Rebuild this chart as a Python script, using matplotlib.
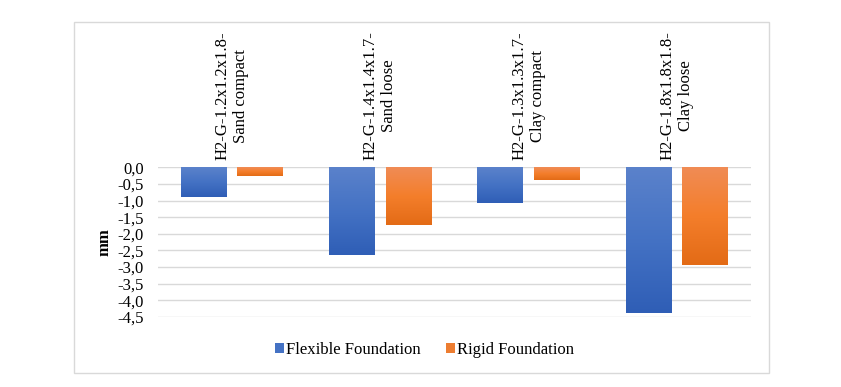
import matplotlib
matplotlib.use("Agg")
import matplotlib.pyplot as plt
import numpy as np
from matplotlib.colors import LinearSegmentedColormap
from matplotlib.patches import Rectangle, Patch
from matplotlib.ticker import FuncFormatter

categories = ["H2-G-1.2x1.2x1.8-\nSand compact", "H2-G-1.4x1.4x1.7-\nSand loose",
              "H2-G-1.3x1.3x1.7-\nClay compact", "H2-G-1.8x1.8x1.8-\nClay loose"]
flexible = [-0.88, -2.65, -1.06, -4.39]
rigid = [-0.25, -1.72, -0.37, -2.95]
series_names = ["Flexible Foundation", "Rigid Foundation"]
yticks = [0.0, -0.5, -1.0, -1.5, -2.0, -2.5, -3.0, -3.5, -4.0, -4.5]

FS = 12
plt.rcParams['font.family'] = ['Liberation Serif', 'DejaVu Serif']
plt.rcParams['font.size'] = FS

fig = plt.figure(figsize=(8.41, 3.87), dpi=100)
W, H = 841, 387
ax = fig.add_axes([158 / W, 1 - 317 / H, (750.5 - 158) / W, (317 - 167.3) / H])

blue_cmap = LinearSegmentedColormap.from_list("b", ["#5B82CB", "#4472C4", "#2F5EB6"])
orange_cmap = LinearSegmentedColormap.from_list("o", ["#F08C56", "#F47E2B", "#E36B16"])

x = np.arange(len(categories))
bw = 0.307
off = 0.19
grad = np.linspace(0, 1, 256).reshape(-1, 1)

for vals, dx, cmap, base in [(flexible, -off, blue_cmap, "#4472C4"), (rigid, off, orange_cmap, "#ED7D31")]:
    bars = ax.bar(x + dx, vals, width=bw, color=base, zorder=2, linewidth=0)
    for b in bars:
        x0, y0 = b.get_x(), b.get_y()
        w, h = b.get_width(), b.get_height()
        top, bot = max(y0, y0 + h), min(y0, y0 + h)
        im = ax.imshow(grad, cmap=cmap, aspect='auto', extent=[x0, x0 + w, bot, top],
                       origin='upper', zorder=3)
        im.set_clip_path(b)

ax.set_xlim(-0.5, 3.5)
ax.set_ylim(-4.5, 0)
ax.set_yticks(yticks)
ax.yaxis.set_major_formatter(FuncFormatter(lambda v, p: f"{v:.1f}".replace('.', ',')))
ax.set_xticks([])
for s in ax.spines.values():
    s.set_visible(False)
ax.tick_params(axis='y', length=0, pad=10, labelsize=FS)
for yv in yticks:
    ax.axhline(yv, color="#D9D9D9", lw=1, zorder=1)

for i, c in enumerate(categories):
    ax.annotate(c, xy=(i, 0), xytext=(0, 5), textcoords='offset points',
                rotation=90, ha='center', va='bottom', multialignment='center',
                fontsize=FS, annotation_clip=False)

ax.set_ylabel("mm", fontweight='bold', fontsize=FS, labelpad=4)

handles = [Patch(facecolor="#4472C4"), Patch(facecolor="#ED7D31")]
fig.legend(handles, series_names, loc='center', bbox_to_anchor=(424.5 / W, 1 - 350 / H),
           ncol=2, frameon=False, handlelength=0.55, handleheight=0.55,
           handletextpad=0.15, columnspacing=1.5, fontsize=FS)

fig.patches.append(Rectangle((74.3 / W, 1 - 373.3 / H), (769.3 - 74.3) / W, (373.3 - 22) / H,
                             transform=fig.transFigure, fill=False, edgecolor="#D9D9D9", lw=1))

fig.savefig("out.png", dpi=100)
